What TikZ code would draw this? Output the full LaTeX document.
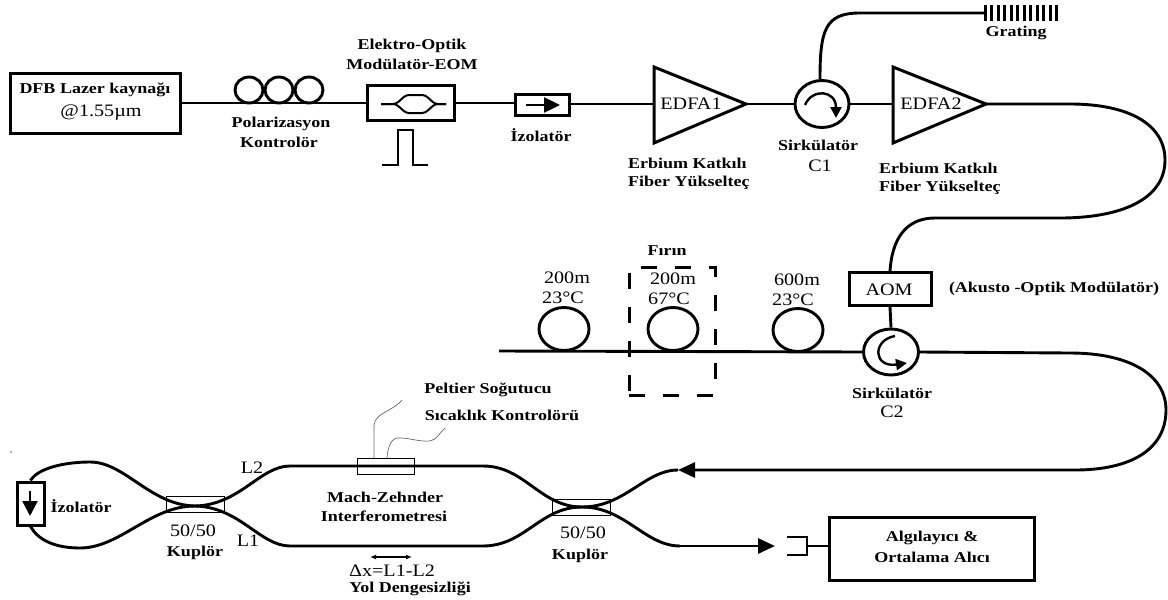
\documentclass[tikz,border=0pt]{standalone}
\usepackage{fontspec}
\setmainfont{Liberation Serif}
\newfontfamily\lblfont[FakeStretch=1.2]{Liberation Serif Bold}
\newfontfamily\plainfont[FakeStretch=1.15]{Liberation Serif}
\usetikzlibrary{arrows.meta,shapes.geometric}
\tikzset{
  fiber/.style={line width=2.9pt,line join=round},
  box/.style={draw,line width=3pt,inner sep=0pt,fill=white},
  thinbox/.style={draw,line width=0.7pt,inner sep=0pt},
  loopcoil/.style={draw,ellipse,line width=2.9pt,inner sep=0pt},
  circ/.style={draw,ellipse,line width=2.9pt,inner sep=0pt,fill=white},
  lbl/.style={font=\lblfont\fontsize{15}{17}\selectfont,inner sep=0pt},
  pln/.style={font=\plainfont\fontsize{17.5}{19}\selectfont,inner sep=0pt},
  wire/.style={draw=black!60,line width=0.7pt},
  arrowed/.style={fiber,-{Triangle[length=17pt,width=15pt]}},
}
\begin{document}
\begin{tikzpicture}[x=1pt,y=-1pt]
\useasboundingbox (0,0) rectangle (1168,600);
% top row
\node[box,minimum width=170pt,minimum height=60pt] (laser) at (95,103) {};
\node[lbl] (lasert) at (95,90) {DFB Lazer kaynağı};
\node[pln] (laserb) at (101,113) {@1.55µm};
\node[box,minimum width=87pt,minimum height=35pt] (eom) at (411,103) {};
\node[box,minimum width=54pt,minimum height=21pt] (iso) at (542,105) {};
\coordinate (e1) at (654,67); \coordinate (e2) at (654,143); \coordinate (e3) at (746,104);
\coordinate (f1) at (893,67); \coordinate (f2) at (893,143); \coordinate (f3) at (986,104);
\coordinate (el) at (654,104); \coordinate (fl) at (893,104);
\node[circ,minimum width=54pt,minimum height=47pt] (c1) at (822,104) {};
\draw[fiber] (laser.east |- 0,103) -- (eom.west |- 0,103);
\node[loopcoil,minimum width=28pt,minimum height=26pt] (p1) at (249,90) {};
\node[loopcoil,minimum width=28pt,minimum height=26pt] (p2) at (279,90) {};
\node[loopcoil,minimum width=28pt,minimum height=26pt] (p3) at (309,90) {};
\draw[fiber] (eom.east) -- (iso.west |- eom.east);
\draw[fiber] (iso.east |- el) -- (el);
\draw[fiber] (e3) -- (c1.west);
\draw[fiber] (c1.east) -- (fl);
\draw[line width=3pt,line join=miter] (e1) -- (e3) -- (e2) -- cycle;
\draw[line width=3pt,line join=miter] (f1) -- (f3) -- (f2) -- cycle;
\node[pln] at (691,104) {EDFA1};
\node[pln] at (931,104) {EDFA2};
% EOM interior
\coordinate (mz0) at (381,104); \coordinate (mz1) at (396,104); \coordinate (mz2) at (406,95);
\coordinate (mz3) at (425,95); \coordinate (mz4) at (435,104); \coordinate (mz5) at (446,104);
\coordinate (mz6) at (425,113); \coordinate (mz7) at (406,113);
\draw[line width=2pt,rounded corners=3pt] (mz0) -- (mz1) -- (mz2) -- (mz3) -- (mz4) -- (mz5);
\draw[line width=2pt,rounded corners=3pt] (mz0) -- (mz1) -- (mz7) -- (mz6) -- (mz4) -- (mz5);
% pulse
\coordinate (pu0) at (382,165); \coordinate (pu1) at (398,165); \coordinate (pu2) at (398,130);
\coordinate (pu3) at (413,130); \coordinate (pu4) at (413,165); \coordinate (pu5) at (428,165);
\draw[line width=2.6pt] (pu0) -- (pu1) -- (pu2) -- (pu3) -- (pu4) -- (pu5);
% isolator arrow
\coordinate (ia) at (526,105); \coordinate (ib) at (560,105);
\draw[line width=2.4pt,-{Triangle[length=16pt,width=15pt]}] (ia) -- (ib);
% circulator C1 arrow
\coordinate (c1a) at (805,105); \coordinate (c1b) at (836,118);
\draw[line width=2.4pt,-{Triangle[length=11pt,width=11pt]}] (c1a) .. controls (812,88) and (836,90) .. (c1b);
% grating
\coordinate (gr) at (984,13);
\draw[fiber] (c1.north -| 820,0) .. controls (820,30) and (825,13) .. (860,13) -- (gr);
\foreach \i in {0,...,11} \draw[line width=3pt] (985+\i*6.5,5) -- (985+\i*6.5,21);
\node[lbl] at (1016,33) {Grating};
% labels
\node[lbl] at (281,124) {Polarizasyon};
\node[lbl] at (279,142) {Kontrolör};
\node[lbl] at (412,46) {Elektro-Optik};
\node[lbl] at (412,64) {Modülatör-EOM};
\node[lbl] at (541,135) {İzolatör};
\node[lbl] at (818,145) {Sirkülatör};
\node[pln] at (820,166) {C1};
\node[lbl,anchor=west] at (628,163) {Erbium Katkılı};
\node[lbl,anchor=west] at (628,183) {Fiber Yükselteç};
\node[lbl,anchor=west] at (879,168) {Erbium Katkılı};
\node[lbl,anchor=west] at (879,188) {Fiber Yükselteç};
% middle row
\node[box,minimum width=82pt,minimum height=33pt] (aom) at (890,289) {};
\node[pln] at (889,290) {AOM};
\node[lbl] at (1054,289) {(Akusto -Optik Modülatör)};
\draw[fiber] (f3) -- (1070,104) .. controls (1130,104) and (1165,125) .. (1165,160)
  .. controls (1165,200) and (1120,218) .. (1060,218) -- (935,218) .. controls (905,218) and (892,240) .. (aom.north);
\node[circ,minimum width=55pt,minimum height=46pt] (c2) at (891,352) {};
\draw[fiber] (aom.south) -- (c2.north);
\coordinate (ml) at (499,351);
\draw[fiber] (ml) -- (c2.west);
\node[loopcoil,minimum width=50pt,minimum height=43pt] (k1) at (564,329) {};
\node[loopcoil,minimum width=50pt,minimum height=43pt] (k2) at (673,329) {};
\node[loopcoil,minimum width=50pt,minimum height=43pt] (k3) at (798,330) {};
\coordinate (c2a) at (895,336); \coordinate (c2b) at (907,363);
\draw[line width=2.4pt,-{Triangle[length=11pt,width=11pt]}] (c2a) .. controls (872,340) and (873,368) .. (c2b);
\node[pln] at (567,278) {200m};
\node[pln] at (563,298) {23°C};
\node[pln] at (673,279) {200m};
\node[pln] at (669,299) {67°C};
\node[pln] at (797,280) {600m};
\node[pln] at (793,300) {23°C};
\node[lbl] at (667,251) {Fırın};
\node[lbl] at (892,393) {Sirkülatör};
\node[pln] at (892,412) {C2};
\node[draw,line width=3pt,dash pattern=on 16pt off 18pt,minimum width=86pt,minimum height=128pt,inner sep=0pt] (oven) at (672,331) {};
% long return fibre
\coordinate (in) at (678,470);
\draw[fiber] (c2.east) -- (1070,353) .. controls (1130,353) and (1166,375) .. (1166,410)
  .. controls (1166,450) and (1130,470) .. (1075,470) -- (690,470);
\draw[fiber,-{Triangle[length=17pt,width=15pt]}] (1075,470) -- (in);
% interferometer
\node[box,minimum width=27pt,minimum height=43pt] (iso2) at (30.5,503.5) {};
\coordinate (ca) at (195,506); \coordinate (cb) at (582,507);
\coordinate (l2a) at (290,466); \coordinate (l2b) at (483,466);
\coordinate (l1a) at (290,546); \coordinate (l1b) at (483,546);
\coordinate (outa) at (680,546); \coordinate (det) at (775,546);
\draw[fiber] (iso2.north) .. controls (38,468) and (65,462) .. (90,462)
  .. controls (125,462) and (150,505) .. (ca) .. controls (240,507) and (260,546) .. (l1a) -- (l1b)
  .. controls (525,546) and (540,507) .. (cb) .. controls (625,507) and (645,470) .. (in);
\draw[fiber] (iso2.south) .. controls (38,540) and (55,548) .. (80,548)
  .. controls (120,548) and (150,506) .. (ca) .. controls (240,505) and (260,466) .. (l2a) -- (l2b)
  .. controls (525,466) and (540,507) .. (cb) .. controls (625,507) and (645,546) .. (outa);
\draw[arrowed] (outa) -- (det);
\coordinate (ia2) at (30,491); \coordinate (ib2) at (30,516);
\draw[line width=2.4pt,-{Triangle[length=15pt,width=15pt]}] (ia2) -- (ib2);
\node[thinbox,minimum width=58pt,minimum height=16pt] (k50a) at (195,504) {};
\node[thinbox,minimum width=58pt,minimum height=16pt] (k50b) at (581,507) {};
\node[thinbox,minimum width=57pt,minimum height=16pt] (pel) at (385.5,466) {};
\coordinate (w1) at (402,400); \coordinate (w2) at (445,428);
\draw[wire] (374,458) -- (374,425) .. controls (376,412) and (392,412) .. (w1);
\draw[wire] (387,458) .. controls (388,445) and (392,437) .. (400,438) .. controls (410,438) and (420,442) .. (430,441) .. controls (437,440) and (440,432) .. (w2);
\node[lbl] at (488,390) {Peltier Soğutucu};
\node[lbl] at (502,415) {Sıcaklık Kontrolörü};
\node[lbl] at (81,506) {İzolatör};
\node[pln] at (252,468) {L2};
\node[pln] at (248,541) {L1};
\node[pln] at (193,531) {50/50};
\node[lbl] at (195,553) {Kuplör};
\node[pln] at (583,533) {50/50};
\node[lbl] at (580,556) {Kuplör};
\node[lbl] at (385,497) {Mach-Zehnder};
\node[lbl] at (384,516) {Interferometresi};
\coordinate (dxa) at (370,557); \coordinate (dxb) at (412,557);
\draw[line width=1.6pt,{Latex[length=6pt,width=5pt]}-{Latex[length=6pt,width=5pt]}] (dxa) -- (dxb);
\node[pln] at (392,571) {Δx=L1-L2};
\node[lbl] at (410,589) {Yol Dengesizliği};
% detector
\node[box,minimum width=205pt,minimum height=63pt] (rx) at (931.5,548.5) {};
\node[lbl] at (932,538) {Algılayıcı \&};
\node[lbl] at (932,557) {Ortalama Alıcı};
\coordinate (b1) at (787,537); \coordinate (b2) at (807,537); \coordinate (b3) at (807,555); \coordinate (b4) at (787,555);
\draw[line width=2.4pt] (b1) -- (b2) -- (b3) -- (b4);
\draw[line width=2.4pt] (b2 |- 0,546) -- (rx.west |- 0,546);
\fill[black!60] (11,452) circle (0.9pt);
\end{tikzpicture}
\end{document}
